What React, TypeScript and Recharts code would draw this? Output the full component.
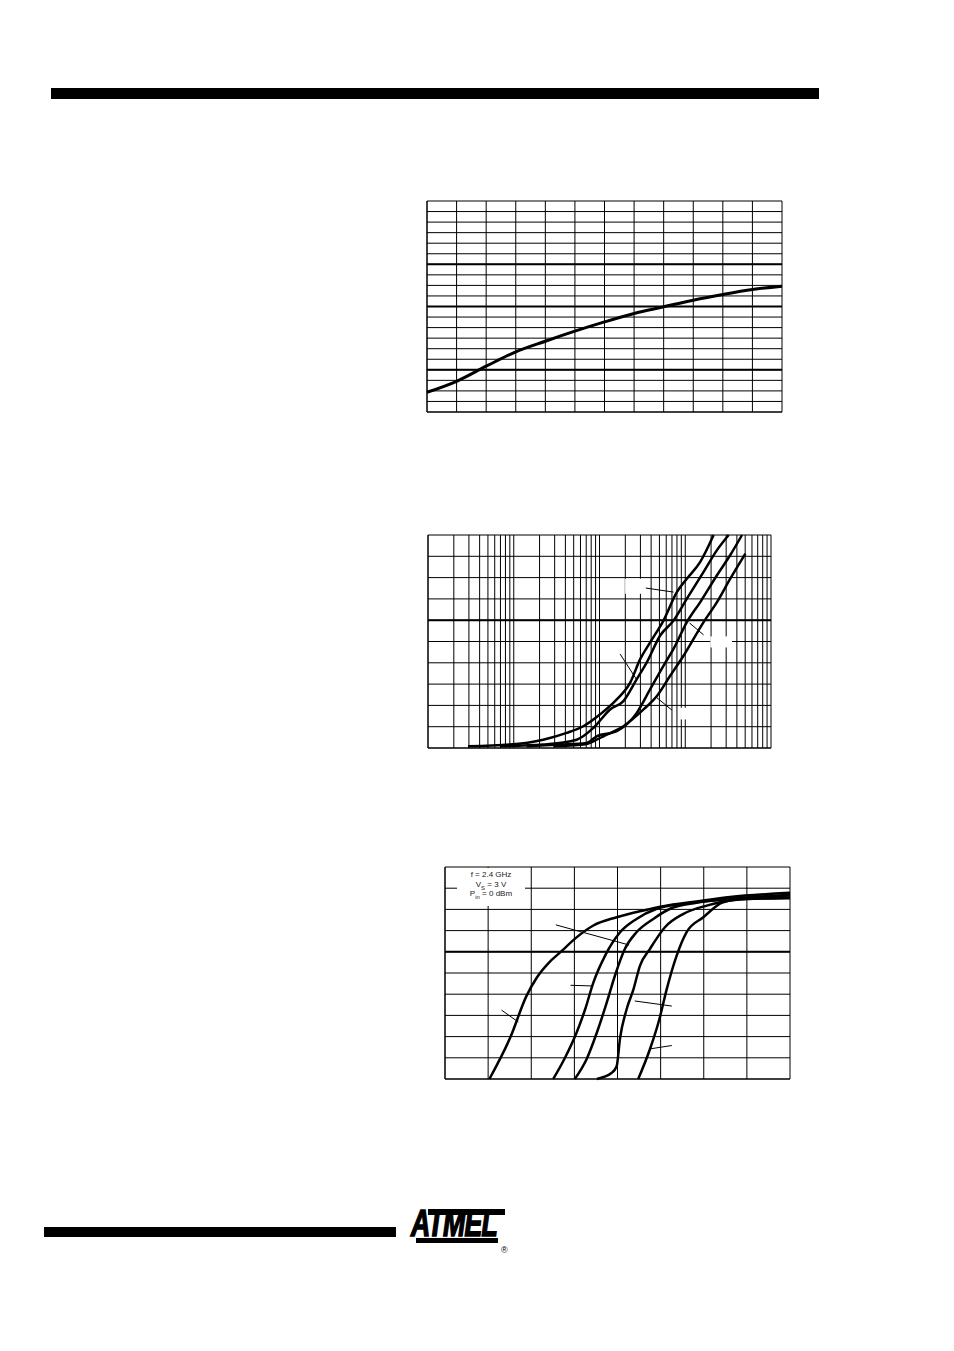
import React from 'react';
import { LineChart, Line, XAxis, YAxis, CartesianGrid, ReferenceLine, ReferenceArea } from 'recharts';

// ---- chart 1 (linear x/y, one curve) ----
const c1X = [0, 1, 2, 3, 4, 5, 6, 7, 8, 9, 10, 11, 12];
const c1Y = [1.87, 2.91, 4.34, 5.7, 6.71, 7.66, 8.54, 9.34, 9.97, 10.6, 11.14, 11.61, 11.93];
const c1XTicks = [0, 2, 4, 6, 8, 10, 12];
const c1YTicks = [0, 2, 4, 6, 8, 10, 12, 14, 16, 18, 20];
const c1GridX = [0, 1, 2, 3, 4, 5, 6, 7, 8, 9, 10, 11, 12];
const c1GridY = [0, 1, 2, 3, 4, 5, 6, 7, 8, 9, 10, 11, 12, 13, 14, 15, 16, 17, 18, 19, 20];
const c1Thick = [4, 10, 14];

// ---- chart 2 (log x, four curves) ----
const c2AX = [2.93, 9.0, 22.1, 41.4, 64.7, 101, 159, 228, 298, 390, 557, 798, 1045, 1496, 2143];
const c2AY = [0.08, 0.16, 0.39, 0.71, 1.02, 1.57, 2.28, 3.07, 4.17, 4.96, 5.98, 7.32, 7.95, 8.74, 10.0];
const c2BX = [6.9, 22.1, 54.2, 84.8, 133, 190, 272, 356, 510, 730, 1045, 1637, 2344, 3210];
const c2BY = [0.08, 0.16, 0.39, 0.94, 1.81, 2.2, 3.23, 4.02, 5.28, 5.98, 7.01, 8.27, 9.29, 10.0];
const c2CX = [14.1, 34.6, 70.8, 92.7, 159, 272, 390, 557, 730, 1045, 1496, 2344, 3350, 4592];
const c2CY = [0.08, 0.16, 0.24, 0.55, 0.79, 1.65, 2.76, 3.86, 4.65, 5.91, 6.85, 8.11, 9.06, 10.0];
const c2DX = [28.9, 64.7, 92.7, 111, 190, 326, 467, 667, 955, 1637, 2344, 3350, 5023];
const c2DY = [0.08, 0.16, 0.39, 0.55, 1.02, 1.81, 2.44, 3.39, 4.33, 5.91, 6.85, 7.95, 9.13];
const c2XTicks = [1, 10, 100, 1000, 10000];
const c2YTicks = [0, 1, 2, 3, 4, 5, 6, 7, 8, 9, 10];
const c2Decades = [1, 10, 100, 1000];
const c2Mult = [1, 2, 3, 4, 5, 6, 7, 8, 9];
const c2GridX = [...c2Decades.flatMap((d) => c2Mult.map((m) => m * d)), 10000];
const c2GridY = [0, 1, 2, 3, 4, 5, 6, 7, 8, 9, 10];
const c2Thick = [6];
const c2Leaders = [
  [347, 7.51, 730, 7.32],
  [1122, 5.87, 1637, 5.31],
  [174, 4.41, 272, 3.2],
  [467, 2.36, 698, 1.78],
];
const c2Blanks = [
  [199, 326, 7.24, 7.95],
  [1959, 3508, 4.72, 5.24],
  [873, 1368, 1.34, 1.89],
];

// ---- chart 3 (linear, five curves) ----
const c3AX = [1.03, 1.51, 1.89, 2.13, 2.4, 2.67, 3.05, 3.44, 3.98, 4.6, 5.06, 5.83, 6.61, 8.0];
const c3AY = [0, 1.94, 3.92, 4.79, 5.47, 5.97, 6.68, 7.24, 7.63, 7.95, 8.15, 8.37, 8.58, 8.78];
const c3BX = [2.51, 2.78, 3.05, 3.25, 3.44, 3.71, 4.06, 4.44, 4.91, 5.53, 6.22, 8.0];
const c3BY = [0, 0.99, 2.18, 3.29, 4.55, 5.81, 6.92, 7.55, 8.03, 8.26, 8.42, 8.69];
const c3CX = [3.01, 3.28, 3.52, 3.75, 3.94, 4.17, 4.44, 4.83, 5.22, 5.83, 6.45, 8.0];
const c3CY = [0, 0.92, 2.18, 3.6, 4.87, 6.13, 6.92, 7.55, 8.03, 8.31, 8.47, 8.66];
const c3DX = [3.52, 3.86, 3.98, 4.06, 4.21, 4.37, 4.52, 4.75, 5.1, 5.53, 6.07, 6.61, 8.0];
const c3DY = [0, 0.28, 0.6, 1.94, 3.28, 4.23, 5.34, 6.13, 7.16, 7.79, 8.18, 8.42, 8.56];
const c3EX = [4.48, 4.75, 4.98, 5.14, 5.37, 5.6, 5.99, 6.45, 6.99, 8.0];
const c3EY = [0, 1.39, 2.89, 4.23, 5.81, 6.92, 7.63, 8.34, 8.5, 8.53];
const c3XTicks = [0, 2, 4, 6, 8];
const c3YTicks = [0, 2, 4, 6, 8, 10];
const c3GridX = [0, 1, 2, 3, 4, 5, 6, 7, 8];
const c3GridY = [0, 1, 2, 3, 4, 5, 6, 7, 8, 9, 10];
const c3Thick = [6];
const c3Leaders = [
  [2.57, 7.27, 4.27, 6.32],
  [1.31, 3.25, 1.7, 2.69],
  [2.91, 4.42, 3.4, 4.39],
  [4.4, 3.68, 5.26, 3.44],
  [4.75, 1.42, 5.26, 1.58],
];

const pts = (xs: number[], ys: number[]) => xs.map((x, i) => ({ x, y: ys[i] }));

const sc = (axis: any, v: number) => {
  const s = axis?.scale;
  if (typeof s === 'function') return s(v);
  if (s && typeof s.map === 'function') return s.map(v);
  return 0;
};

const M = { top: 10, right: 10, bottom: 0, left: 0 };
const axisStroke = { stroke: '#000', strokeWidth: 1 };

function Chart1() {
  return (
    <LineChart width={375} height={231} margin={M}>
      <CartesianGrid
        stroke="#000"
        verticalCoordinatesGenerator={({ xAxis }: any) => c1GridX.map((v) => sc(xAxis, v))}
        horizontalCoordinatesGenerator={({ yAxis }: any) => c1GridY.map((v) => sc(yAxis, v))}
      />
      <XAxis dataKey="x" type="number" domain={[0, 12]} ticks={c1XTicks} tick={false} tickSize={3}
        height={10} axisLine={axisStroke} tickLine={axisStroke} />
      <YAxis type="number" domain={[0, 20]} ticks={c1YTicks} tick={false} tickSize={2}
        width={10} axisLine={axisStroke} tickLine={axisStroke} />
      {c1Thick.map((v) => (
        <ReferenceLine key={v} y={v} stroke="#000" strokeWidth={2} />
      ))}
      <Line data={pts(c1X, c1Y)} dataKey="y" type="monotone" stroke="#000" strokeWidth={3}
        dot={false} isAnimationActive={false} />
    </LineChart>
  );
}

function Chart2() {
  const series = [pts(c2AX, c2AY), pts(c2BX, c2BY), pts(c2CX, c2CY), pts(c2DX, c2DY)];
  return (
    <LineChart width={363} height={233} margin={M}>
      <CartesianGrid
        stroke="#000"
        verticalCoordinatesGenerator={({ xAxis }: any) => c2GridX.map((v) => sc(xAxis, v))}
        horizontalCoordinatesGenerator={({ yAxis }: any) => c2GridY.map((v) => sc(yAxis, v))}
      />
      <XAxis dataKey="x" type="number" scale="log" domain={[1, 10000]} ticks={c2XTicks} tick={false}
        tickSize={3} height={10} axisLine={axisStroke} tickLine={axisStroke} allowDataOverflow />
      <YAxis type="number" domain={[0, 10]} ticks={c2YTicks} tick={false} tickSize={2}
        width={10} axisLine={axisStroke} tickLine={axisStroke} />
      {c2Blanks.map(([x1, x2, y1, y2], i) => (
        <ReferenceArea key={'b' + i} x1={x1} x2={x2} y1={y1} y2={y2} fill="#fff" fillOpacity={1} stroke="none" />
      ))}
      {c2Thick.map((v) => (
        <ReferenceLine key={v} y={v} stroke="#000" strokeWidth={2} />
      ))}
      {series.map((d, i) => (
        <Line key={i} data={d} dataKey="y" type="monotone" stroke="#000" strokeWidth={2.5}
          dot={false} isAnimationActive={false} />
      ))}
      {c2Leaders.map(([x1, y1, x2, y2], i) => (
        <ReferenceLine key={'l' + i} segment={[{ x: x1, y: y1 }, { x: x2, y: y2 }]} stroke="#000" strokeWidth={1} />
      ))}
    </LineChart>
  );
}

function Chart3() {
  const series = [pts(c3AX, c3AY), pts(c3BX, c3BY), pts(c3CX, c3CY), pts(c3DX, c3DY), pts(c3EX, c3EY)];
  return (
    <LineChart width={365} height={232} margin={M}>
      <CartesianGrid
        stroke="#000"
        verticalCoordinatesGenerator={({ xAxis }: any) => c3GridX.map((v) => sc(xAxis, v))}
        horizontalCoordinatesGenerator={({ yAxis }: any) => c3GridY.map((v) => sc(yAxis, v))}
      />
      <XAxis dataKey="x" type="number" domain={[0, 8]} ticks={c3XTicks} tick={false} tickSize={3}
        height={10} axisLine={axisStroke} tickLine={axisStroke} />
      <YAxis type="number" domain={[0, 10]} ticks={c3YTicks} tick={false} tickSize={2}
        width={10} axisLine={axisStroke} tickLine={axisStroke} />
      {c3Thick.map((v) => (
        <ReferenceLine key={v} y={v} stroke="#000" strokeWidth={2} />
      ))}
      {series.map((d, i) => (
        <Line key={i} data={d} dataKey="y" type="monotone" stroke="#000" strokeWidth={2.5}
          dot={false} isAnimationActive={false} />
      ))}
      {c3Leaders.map(([x1, y1, x2, y2], i) => (
        <ReferenceLine key={'l' + i} segment={[{ x: x1, y: y1 }, { x: x2, y: y2 }]} stroke="#000" strokeWidth={1} />
      ))}
    </LineChart>
  );
}

export default function App() {
  const abs = (left: number, top: number): React.CSSProperties => ({ position: 'absolute', left, top });
  return (
    <div style={{ position: 'absolute', left: 0, top: 0, width: 954, height: 1351, background: '#fff', overflow: 'hidden', fontFamily: '"Liberation Sans", Arial, sans-serif' }}>
      {/* header rule */}
      <div style={{ ...abs(51, 88), width: 768, height: 11, background: '#000' }} />

      <div style={abs(417, 191)}><Chart1 /></div>
      <div style={abs(418, 525)}><Chart2 /></div>
      <div style={abs(435, 857)}><Chart3 /></div>

      {/* chart 3 condition box */}
      <div style={{ ...abs(457, 868), width: 68, height: 38, background: '#fff', fontSize: 8, lineHeight: '9.5px', color: '#222', textAlign: 'center', paddingTop: 2, boxSizing: 'border-box' }}>
        <div>f = 2.4 GHz</div>
        <div>V<sub style={{ fontSize: 6, lineHeight: 0 }}>S</sub> = 3 V</div>
        <div>P<sub style={{ fontSize: 6, lineHeight: 0 }}>in</sub> = 0 dBm</div>
      </div>

      {/* footer rule */}
      <div style={{ ...abs(44, 1227), width: 352, height: 10, background: '#000' }} />

      {/* logo */}
      <div style={{ ...abs(428, 1209), width: 77, height: 6, background: '#000' }} />
      <div style={{ ...abs(411, 1206), width: 110, height: 36, fontSize: 36, fontWeight: 900, fontStyle: 'italic', lineHeight: '36px', letterSpacing: -1, transform: 'scaleX(0.74)', transformOrigin: 'left top', color: '#000', WebkitTextStroke: '1.5px #000' }}>ATMEL</div>
      <div style={{ ...abs(416, 1238), width: 82, height: 5, background: '#000' }} />
      <div style={{ ...abs(501, 1245), fontSize: 9, color: '#000' }}>®</div>
    </div>
  );
}
